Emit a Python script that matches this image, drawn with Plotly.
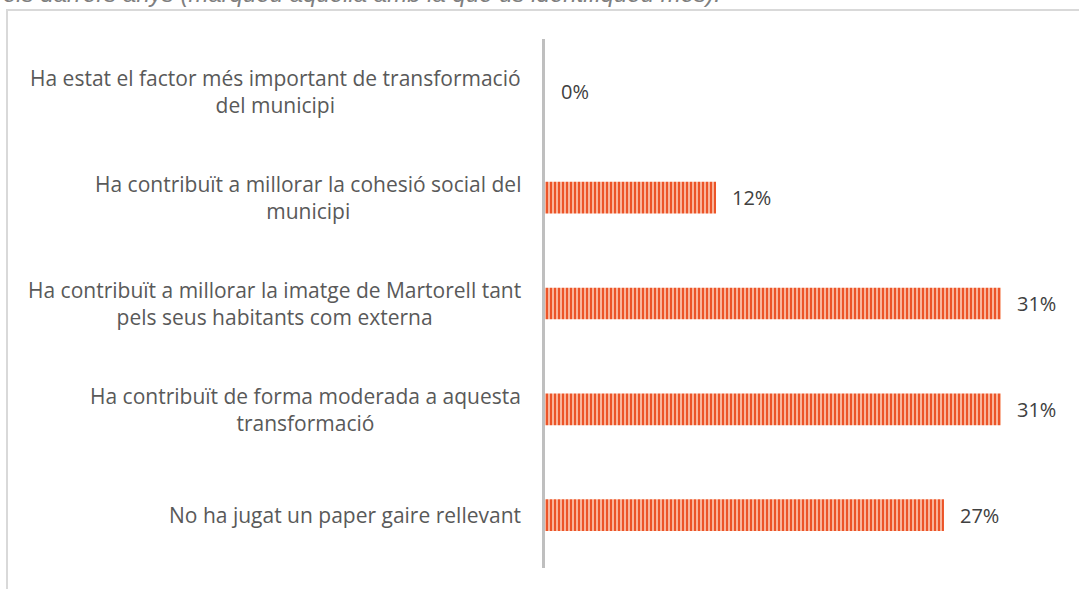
import plotly.graph_objects as go

categories = [
    "Ha estat el factor més important de transformació<br>del municipi",
    "Ha contribuït a millorar la cohesió social del<br>municipi",
    "Ha contribuït a millorar la imatge de Martorell tant<br>pels seus habitants com externa",
    "Ha contribuït de forma moderada a aquesta<br>transformació",
    "No ha jugat un paper gaire rellevant",
]
values = [0.0, 11.54, 30.77, 30.77, 26.92]
value_labels = ["0%", "12%", "31%", "31%", "27%"]
title_text = "els darrers anys (marqueu aquella amb la que us identifiqueu més)."

W, H = 1079, 589
L, R, T, B = 545, 19, 39, 21
pw, ph = W - L - R, H - T - B

def px_x(p):
    return (p - L) / pw

def px_y(p):
    return 1 - (p - T) / ph

FONT = "Open Sans"
fig = go.Figure()
fig.add_trace(go.Bar(
    y=categories, x=values, orientation="h",
    marker=dict(color="#F4623A", line=dict(width=0),
                pattern=dict(shape="|", fgcolor="#EC5428", bgcolor="#F9B49A",
                             fillmode="replace", size=4, solidity=0.5)),
    hoverinfo="skip",
))

annotations = []
for c, v, t in zip(categories, values, value_labels):
    annotations.append(dict(x=v, y=c, xref="x", yref="y", text=t, showarrow=False,
                            xanchor="left", xshift=14,
                            font=dict(family=FONT, size=20, color="#404040")))
    annotations.append(dict(x=0, y=c, xref="paper", yref="y", text=c, showarrow=False,
                            xanchor="right", align="center", xshift=-22,
                            font=dict(family=FONT, size=21, color="#595959")))
annotations.append(dict(x=px_x(1), y=px_y(9), xref="paper", yref="paper", text="<i>" + title_text + "</i>",
                        showarrow=False, xanchor="left", yanchor="bottom",
                        font=dict(family="Liberation Sans", size=24, color="#7F7F7F")))

fig.update_layout(
    width=W, height=H,
    margin=dict(l=L, r=R, t=T, b=B, pad=0),
    paper_bgcolor="white", plot_bgcolor="white",
    bargap=0.70,
    showlegend=False,
    xaxis=dict(range=[0, 34.75], visible=False, fixedrange=True),
    yaxis=dict(autorange="reversed", showticklabels=False, showgrid=False, zeroline=False,
               showline=True, linecolor="#BFBFBF", linewidth=3, ticks="", fixedrange=True),
    annotations=annotations,
    shapes=[dict(type="rect", xref="paper", yref="paper",
                 x0=px_x(7), x1=px_x(1090), y0=px_y(10), y1=px_y(600),
                 line=dict(color="#D9D9D9", width=2), fillcolor="rgba(0,0,0,0)", layer="below")],
)

fig.write_html("out.html", config={"displayModeBar": False},
               post_script="document.body.style.margin='0';document.body.style.overflow='hidden';")
